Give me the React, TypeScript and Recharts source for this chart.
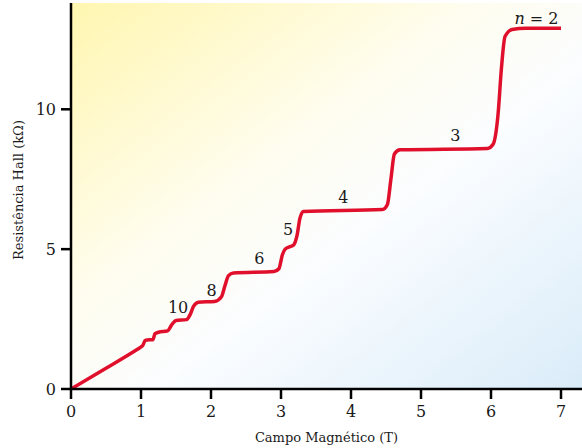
import { CartesianGrid, Line, LineChart, ReferenceDot, XAxis, YAxis } from "recharts";

// Hall resistance vs magnetic field, with the quantised plateaus
const fieldT = [
  0, 0.5, 0.95, 1.0, 1.03, 1.06, 1.12, 1.17, 1.2, 1.25, 1.38, 1.44, 1.5, 1.65, 1.7, 1.75, 1.82, 2.05,
  2.15, 2.2, 2.25, 2.32, 2.9, 2.97, 3.02, 3.06, 3.12, 3.18, 3.23, 3.27, 3.32, 4.45, 4.52, 4.57, 4.62,
  4.7, 5.95, 6.03, 6.1, 6.15, 6.2, 6.3, 6.5, 7.0,
];
const hallR = [
  0, 0.74, 1.42, 1.5, 1.58, 1.74, 1.76, 1.76, 1.98, 2.03, 2.08, 2.3, 2.45, 2.48, 2.65, 2.95, 3.1, 3.13,
  3.3, 3.7, 4.05, 4.15, 4.2, 4.3, 4.8, 5.0, 5.08, 5.15, 5.5, 6.1, 6.35, 6.42, 6.6, 7.5, 8.4, 8.55, 8.6,
  8.75, 9.8, 11.5, 12.6, 12.85, 12.9, 12.9,
];

const plateauN = ["10", "8", "6", "5", "4", "3", "2"];
const plateauLabelB = [1.53, 2.01, 2.69, 3.1, 3.89, 5.49, 6.65];
const plateauLabelR = [2.9, 3.53, 4.66, 5.7, 6.85, 9.05, 13.26];

const xTicks = [0, 1, 2, 3, 4, 5, 6, 7];
const yTicks = [0, 5, 10];

const FONT = "DejaVu Serif";
const RED = "#e0102c";
const INK = "#1a1a1a";

const data = fieldT.map((b, i) => ({ b, r: hallR[i] }));

function plateauLabel(n: string, last: boolean) {
  return (props: any) => {
    const vb = props.viewBox || {};
    const cx = (vb.x ?? 0) + (vb.width ?? 0) / 2;
    const cy = (vb.y ?? 0) + (vb.height ?? 0) / 2;
    return (
      <text x={cx} y={cy} dy="0.35em" textAnchor="middle" style={{ fontFamily: FONT, fontSize: 16 }} fill={INK}>
        {last ? (
          <>
            <tspan fontStyle="italic">n</tspan>
            {" = " + n}
          </>
        ) : (
          n
        )}
      </text>
    );
  };
}

function YLabel(props: any) {
  const vb = props.viewBox || {};
  const x = (vb.x ?? 0) + 18;
  const y = (vb.y ?? 0) + (vb.height ?? 0) / 2 - 6;
  return (
    <text
      x={x}
      y={y}
      transform={`rotate(-90 ${x} ${y})`}
      textAnchor="middle"
      dy="0.35em"
      style={{ fontFamily: FONT, fontSize: 13 }}
      fill={INK}
    >
      Resistência Hall (kΩ)
    </text>
  );
}

export default function App() {
  return (
    <div style={{ position: "absolute", left: 0, top: 0, width: 582, height: 448, background: "#fff" }}>
      <LineChart width={582} height={448} data={data} margin={{ top: 3, right: 0, left: 0, bottom: 0 }}>
        <defs>
          <linearGradient id="hallBg" x1="0" y1="0" x2="1" y2="1">
            <stop offset="0%" stopColor="#fff6b0" />
            <stop offset="40%" stopColor="#fffdf0" />
            <stop offset="58%" stopColor="#fbfdff" />
            <stop offset="100%" stopColor="#daecf9" />
          </linearGradient>
        </defs>
        <CartesianGrid horizontal={false} vertical={false} stroke="none" fill="url(#hallBg)" />
        <XAxis
          type="number"
          dataKey="b"
          domain={[0, 7.3]}
          ticks={xTicks}
          allowDataOverflow
          height={59}
          tickSize={10}
          tickMargin={7}
          axisLine={{ stroke: "#000", strokeWidth: 2.5 }}
          tickLine={{ stroke: "#000", strokeWidth: 2.5 }}
          tick={{ fill: INK, fontSize: 16, style: { fontFamily: FONT } }}
          label={{
            value: "Campo Magnético (T)",
            position: "insideBottom",
            offset: 6,
            fill: INK,
            fontSize: 13,
            style: { fontFamily: FONT },
          }}
        />
        <YAxis
          type="number"
          dataKey="r"
          domain={[0, 13.8]}
          ticks={yTicks}
          allowDataOverflow
          width={71}
          tickSize={10}
          tickMargin={5}
          axisLine={{ stroke: "#000", strokeWidth: 2.5 }}
          tickLine={{ stroke: "#000", strokeWidth: 2.5 }}
          tick={{ fill: INK, fontSize: 16, style: { fontFamily: FONT } }}
          label={{ content: YLabel }}
        />
        <Line
          type="monotone"
          dataKey="r"
          stroke={RED}
          strokeWidth={3.5}
          dot={false}
          activeDot={false}
          isAnimationActive={false}
        />
        {plateauN.map((n, i) => (
          <ReferenceDot
            key={n}
            x={plateauLabelB[i]}
            y={plateauLabelR[i]}
            r={0}
            fill="none"
            stroke="none"
            label={{ content: plateauLabel(n, i === plateauN.length - 1) }}
          />
        ))}
      </LineChart>
    </div>
  );
}
